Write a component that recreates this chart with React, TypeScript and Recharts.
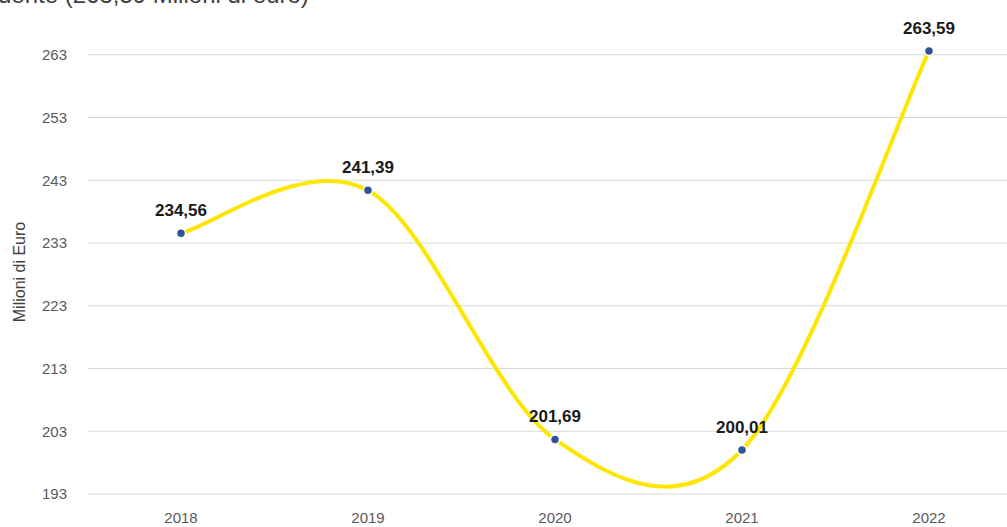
import React from 'react';
import { LineChart, Line, XAxis, YAxis, CartesianGrid, LabelList } from 'recharts';

const years = ['2018', '2019', '2020', '2021', '2022'];
const valori = [234.56, 241.39, 201.69, 200.01, 263.59];
const yTicks = [193, 203, 213, 223, 233, 243, 253, 263, 273];

const data = years.map((anno, i) => ({ anno, valore: valori[i] }));

const FONT = '"Liberation Sans", Arial, sans-serif';

const fmt = (v: any) => Number(v).toFixed(2).replace('.', ',');

// smoothing like the spreadsheet one (Catmull-Rom, control points at 1/6)
const smoothCurve = (context: any) => {
  let pts: [number, number][] = [];
  return {
    areaStart() {},
    areaEnd() {},
    lineStart() {
      pts = [];
    },
    lineEnd() {
      const n = pts.length;
      if (!n) return;
      context.moveTo(pts[0][0], pts[0][1]);
      for (let i = 0; i < n - 1; i++) {
        const p0 = pts[Math.max(i - 1, 0)];
        const p1 = pts[i];
        const p2 = pts[i + 1];
        const p3 = pts[Math.min(i + 2, n - 1)];
        context.bezierCurveTo(
          p1[0] + (p2[0] - p0[0]) / 6,
          p1[1] + (p2[1] - p0[1]) / 6,
          p2[0] - (p3[0] - p1[0]) / 6,
          p2[1] - (p3[1] - p1[1]) / 6,
          p2[0],
          p2[1]
        );
      }
    },
    point(x: number, y: number) {
      pts.push([+x, +y]);
    },
  };
};

const YTitle = (props: any) => {
  const vb = props.viewBox || { x: 0, y: 0, height: 0 };
  const cx = vb.x + 19;
  const cy = vb.y + vb.height / 2 + 29;
  return (
    <text
      x={cx}
      y={cy}
      transform={`rotate(-90 ${cx} ${cy})`}
      textAnchor="middle"
      dominantBaseline="central"
      fill="#404040"
      fontSize={16}
      fontFamily={FONT}
    >
      Milioni di Euro
    </text>
  );
};

export default function App() {
  return (
    <div style={{ position: 'fixed', left: 0, top: 0, width: 1007, height: 527, overflow: 'hidden', background: '#fff', fontFamily: FONT }}>
      <div style={{ position: 'absolute', left: -2, top: -19, fontSize: 24, color: '#404040', whiteSpace: 'nowrap' }}>
        dente (263,59 Milioni di euro)
      </div>
      <div style={{ position: 'absolute', left: 0, top: -30 }}>
        <LineChart width={1030} height={560} data={data} margin={{ top: 22, right: 8, bottom: 6, left: 0 }}>
          <CartesianGrid vertical={false} stroke="#D9D9D9" strokeWidth={1} />
          <XAxis
            dataKey="anno"
            axisLine={false}
            tickLine={false}
            padding={{ left: 93, right: 93 }}
            height={30}
            tickSize={0}
            tickMargin={18}
            tick={{ fill: '#595959', fontSize: 15, fontFamily: FONT }}
          />
          <YAxis
            domain={[193, 273]}
            ticks={yTicks}
            interval={0}
            axisLine={false}
            tickLine={false}
            width={88}
            tickSize={0}
            tickMargin={21}
            tick={{ fill: '#595959', fontSize: 15, fontFamily: FONT }}
            label={<YTitle />}
          />
          <Line
            type={smoothCurve as any}
            dataKey="valore"
            stroke="#FFE600"
            strokeWidth={4}
            isAnimationActive={false}
            dot={{ r: 4.5, fill: '#2F5597', stroke: '#ffffff', strokeWidth: 1.5 }}
          >
            <LabelList dataKey="valore" position="top" offset={17} formatter={fmt} style={{ fill: '#1a1a1a', fontSize: 17, fontWeight: 700, fontFamily: FONT }} />
          </Line>
        </LineChart>
      </div>
    </div>
  );
}
